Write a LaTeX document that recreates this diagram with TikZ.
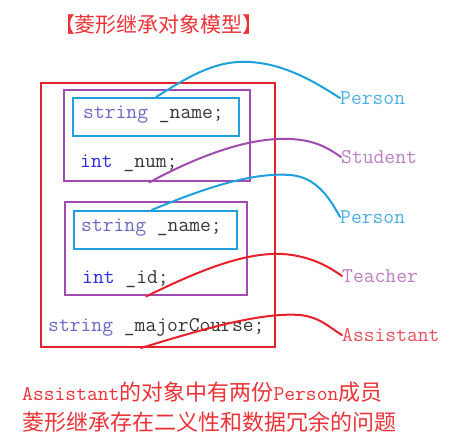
\documentclass[tikz,border=0pt]{standalone}
\usepackage{fontspec}
\newfontfamily\cjk{Noto Sans CJK SC}
\newcommand\codefont{\ttfamily}
\definecolor{cred}{RGB}{232,32,42}
\definecolor{cpurple}{RGB}{160,75,175}
\definecolor{cblue}{RGB}{30,160,222}
\definecolor{strcol}{RGB}{105,105,200}
\definecolor{intcol}{RGB}{45,45,225}
\definecolor{darktxt}{RGB}{55,55,55}
\definecolor{lblue}{RGB}{75,175,232}
\definecolor{lpurple}{RGB}{190,125,195}
\definecolor{lred}{RGB}{236,80,92}
\definecolor{tred}{RGB}{235,50,55}
\tikzset{
  box/.style={draw, anchor=north west, inner sep=0pt},
  code/.style={anchor=west, inner sep=0pt, font=\codefont\fontsize{21}{23}\selectfont},
  lbl/.style={anchor=west, inner sep=0pt, font=\codefont\fontsize{21}{23}\selectfont},
  link/.style={line width=2pt, line cap=round},
}
\begin{document}
\begin{tikzpicture}[x=1pt,y=-1pt]
\useasboundingbox (0,0) rectangle (451,440);
% title
\node[inner sep=0pt, text=tred, font=\cjk\fontsize{21}{23}\selectfont] (title) at (159,25) {【菱形继承对象模型】};
% boxes
\node[box, draw=cred, line width=2pt, minimum width=234pt, minimum height=264pt] (outer) at (40,82) {};
\node[box, draw=cpurple, line width=2.4pt, minimum width=186pt, minimum height=91pt] (p1) at (63,89) {};
\node[box, draw=cblue, line width=2.4pt, minimum width=166pt, minimum height=38pt] (b1) at (72,97) {};
\node[box, draw=cpurple, line width=2.4pt, minimum width=182pt, minimum height=93pt] (p2) at (64,201) {};
\node[box, draw=cblue, line width=2.4pt, minimum width=163pt, minimum height=38pt] (b2) at (73,210) {};
% code texts
\node[code] (t1) at (83,115) {\textcolor{strcol}{string} \textcolor{darktxt}{\_name;}};
\node[code] (t2) at (80,163) {\textcolor{intcol}{int} \textcolor{darktxt}{\_num;}};
\node[code] (t3) at (81,228) {\textcolor{strcol}{string} \textcolor{darktxt}{\_name;}};
\node[code] (t4) at (82,279) {\textcolor{intcol}{int} \textcolor{darktxt}{\_id;}};
\node[code] (t5) at (48,327) {\textcolor{strcol}{string} \textcolor{darktxt}{\_majorCourse;}};
% labels
\node[lbl, text=lblue] (l1) at (340,98) {Person};
\node[lbl, text=lpurple] (l2) at (341,157) {Student};
\node[lbl, text=lblue] (l3) at (340,217) {Person};
\node[lbl, text=lpurple] (l4) at (342,276) {Teacher};
\node[lbl, text=lred] (l5) at (342,335) {Assistant};
% connectors
\draw[link, cblue] (b1.north) .. controls (195,72) and (220,60) .. (250,62) .. controls (285,64) and (315,82) .. (l1.west);
\draw[link, cpurple] ([xshift=-8pt]p1.south) .. controls (200,155) and (250,137) .. (290,139) .. controls (315,140) and (328,148) .. (l2.west);
\draw[link, cblue] ([xshift=-4pt]b2.north) .. controls (200,190) and (250,172) .. (290,175) .. controls (315,177) and (328,195) .. (l3.west);
\draw[link, cred] ([xshift=-10pt]p2.south) .. controls (200,270) and (245,252) .. (283,254) .. controls (310,256) and (328,266) .. (l4.west);
\draw[link, cred] ([xshift=-17pt]outer.south) .. controls (200,330) and (260,312) .. (300,315) .. controls (320,317) and (330,328) .. (l5.west);
% bottom text
\node[anchor=west, inner sep=0pt, text=tred] (n1) at (22,392) {{\codefont\fontsize{21}{23}\selectfont Assistant}{\cjk\fontsize{22}{24}\selectfont 的对象中有两份}{\codefont\fontsize{21}{23}\selectfont Person}{\cjk\fontsize{22}{24}\selectfont 成员}};
\node[anchor=west, inner sep=0pt, text=tred, font=\cjk\fontsize{22}{24}\selectfont] (n2) at (22,422) {菱形继承存在二义性和数据冗余的问题};
\end{tikzpicture}
\end{document}
